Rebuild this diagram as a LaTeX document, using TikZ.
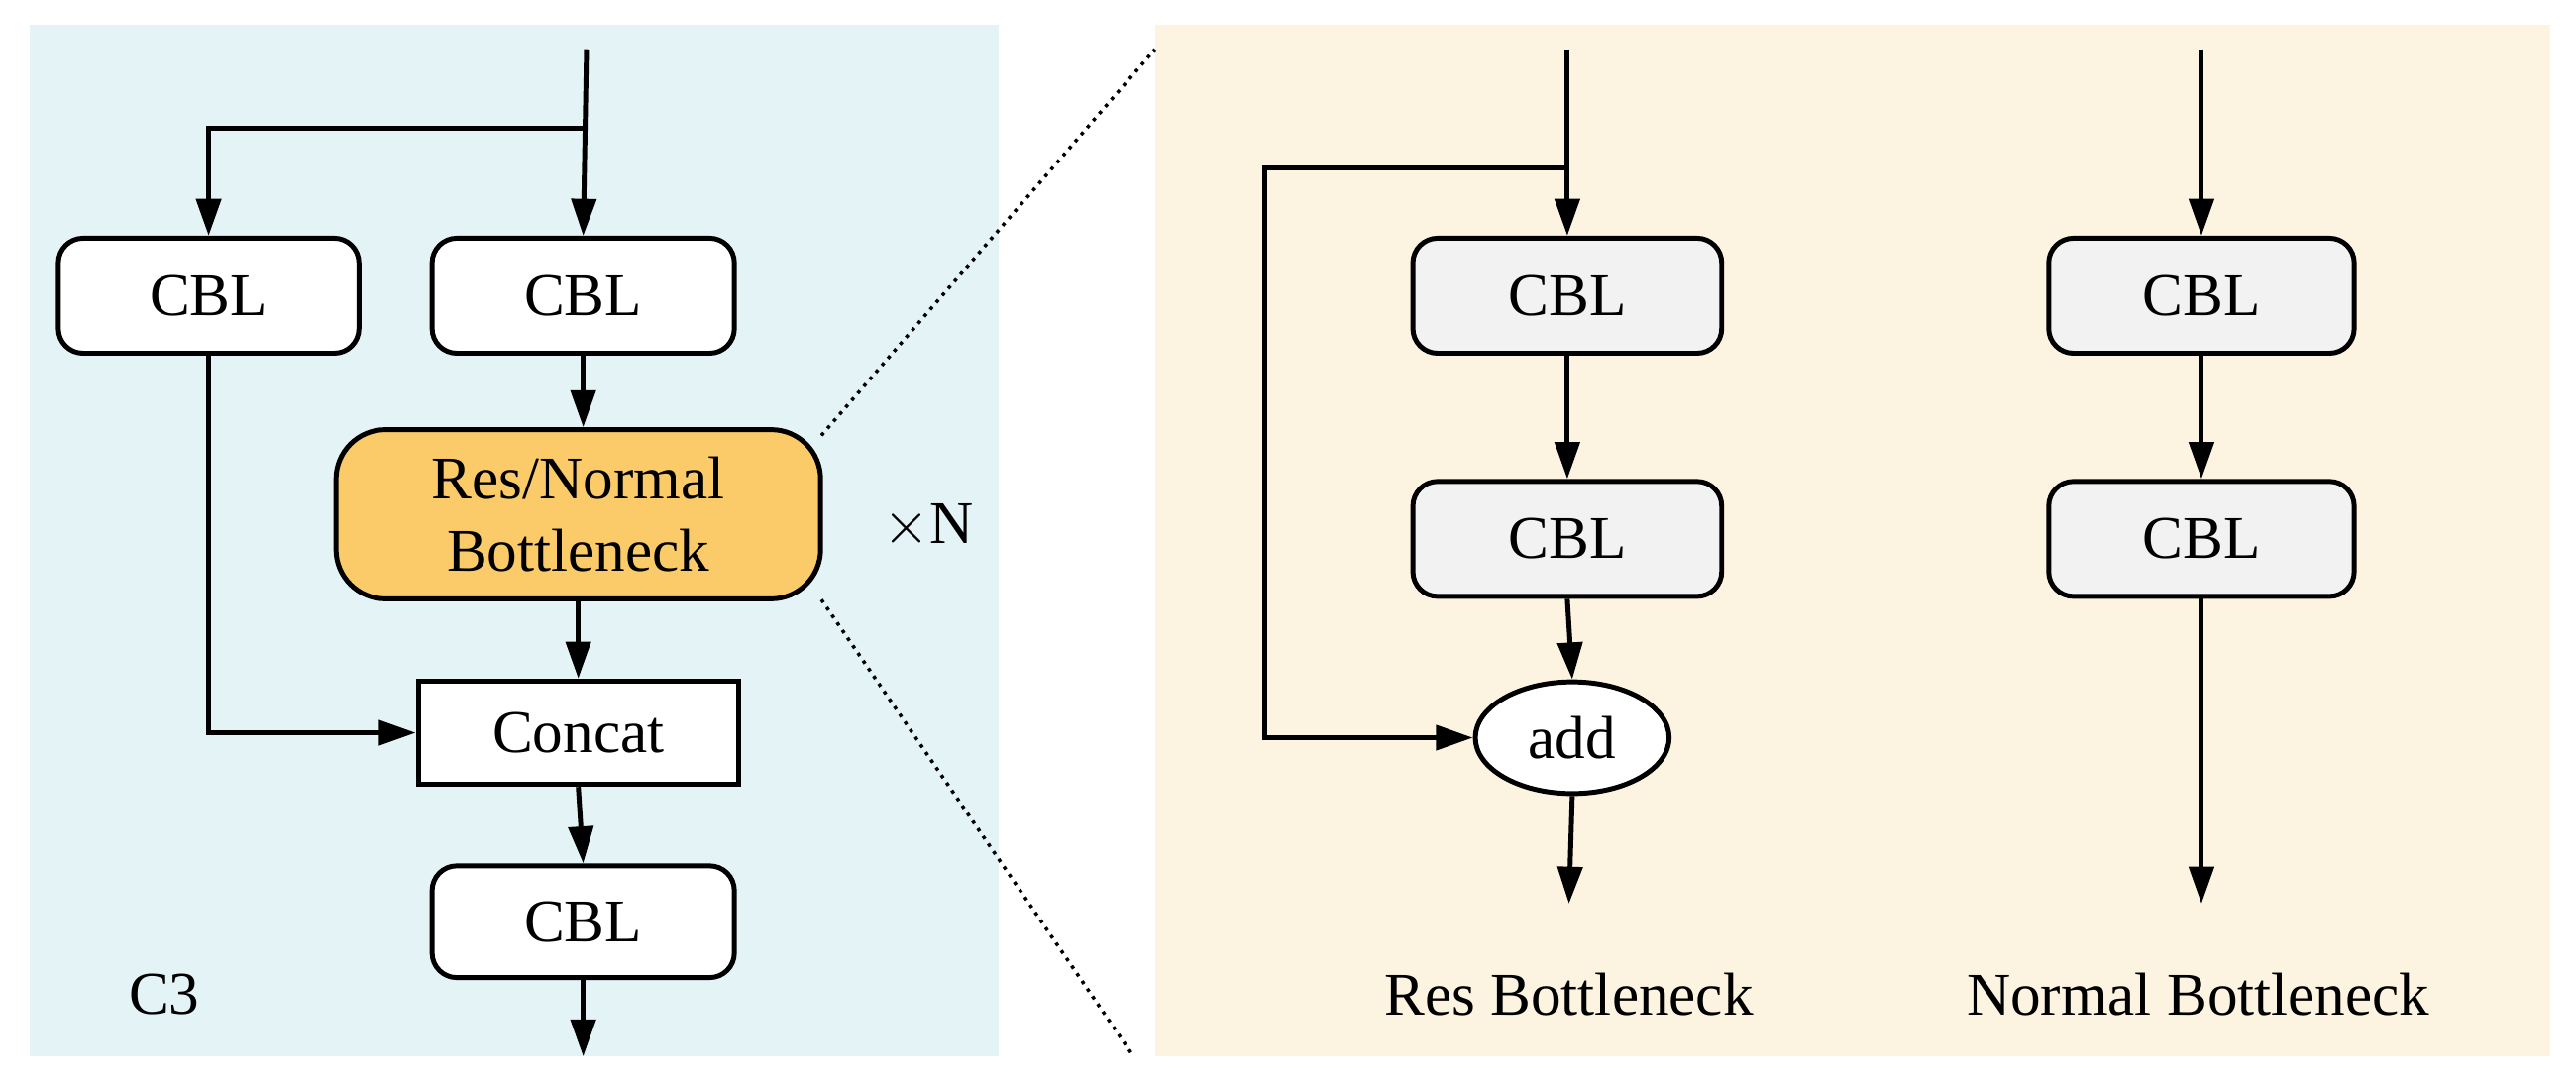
\documentclass[tikz,border=0pt]{standalone}
\usepackage{fontspec}
\setmainfont{Liberation Serif}
\usetikzlibrary{arrows.meta,shapes.geometric}
\definecolor{lblue}{HTML}{E3F3F6}
\definecolor{cream}{HTML}{FCF3E0}
\definecolor{orng}{HTML}{FBCB6A}
\definecolor{lgray}{HTML}{F2F2F2}
\begin{document}
\begin{tikzpicture}[x=0.02cm,y=-0.02cm,
  every node/.style={font=\fontsize{21}{25}\selectfont},
  box/.style={draw,line width=1.7pt,rounded corners=0.3cm,minimum height=1.4cm,inner sep=0pt},
  arr/.style={line width=1.7pt,-{Triangle[length=0.45cm,width=0.3cm]}},
  ln/.style={line width=1.7pt}]
\useasboundingbox (0,0) rectangle (1568,658);
\fill[lblue] (18,15) rectangle (608,643);
\fill[cream] (703,15) rectangle (1552,643);
% left
\node[box,fill=white,minimum width=3.66cm] (c1) at (127,180) {CBL};
\node[box,fill=white,minimum width=3.68cm] (c2) at (355,180) {CBL};
\node[box,fill=orng,minimum width=5.9cm,minimum height=2.06cm,rounded corners=0.6cm,align=center] (bn) at (352,313) {Res/Normal\\Bottleneck};
\node[draw,line width=1.7pt,fill=white,minimum width=3.9cm,minimum height=1.26cm,inner sep=0pt] (cc) at (352,446) {Concat};
\node[box,fill=white,minimum width=3.68cm,minimum height=1.36cm] (c3) at (355,561) {CBL};
\node (xn) at (565,320) {$\times$N};
\node (lc3) at (100,605) {C3};
\coordinate (in) at (357,30);
\coordinate (br) at (357,78);
\coordinate (out) at (355,643);
\draw[arr] (in) -- (c2.north);
\draw[arr] (br) -| (c1.north);
\draw[arr] (c2.south) -- (bn.north -| c2.south);
\draw[arr] (bn.south) -- (cc.north);
\draw[arr] (c1.south) |- (cc.west);
\draw[arr] (cc.south) -- (c3.north);
\draw[arr] (c3.south) -- (out);
\draw[dotted,line width=1.2pt] (500,265) -- (703,30);
\draw[dotted,line width=1.2pt] (500,365) -- (690,643);
% right: res
\node[box,fill=lgray,minimum width=3.76cm] (r1) at (954,180) {CBL};
\node[box,fill=lgray,minimum width=3.76cm] (r2) at (954,328) {CBL};
\node[draw,ellipse,line width=1.7pt,fill=white,minimum width=2.36cm,minimum height=1.36cm,inner sep=0pt] (add) at (957,449) {add};
\coordinate (rin) at (954,30);
\coordinate (rbr) at (954,102);
\coordinate (rout) at (955,550);
\draw[arr] (rin) -- (r1.north);
\draw[arr] (r1.south) -- (r2.north);
\draw[arr] (r2.south) -- (add.north);
\draw[arr] (rbr) -- (770,102) |- (add.west);
\draw[arr] (add.south) -- (rout);
\node (lr) at (955,605) {Res Bottleneck};
% right: normal
\node[box,fill=lgray,minimum width=3.72cm] (n1) at (1340,180) {CBL};
\node[box,fill=lgray,minimum width=3.72cm] (n2) at (1340,328) {CBL};
\coordinate (nin) at (1340,30);
\coordinate (nout) at (1340,550);
\draw[arr] (nin) -- (n1.north);
\draw[arr] (n1.south) -- (n2.north);
\draw[arr] (n2.south) -- (nout);
\node (ln) at (1338,605) {Normal Bottleneck};
\end{tikzpicture}
\end{document}
